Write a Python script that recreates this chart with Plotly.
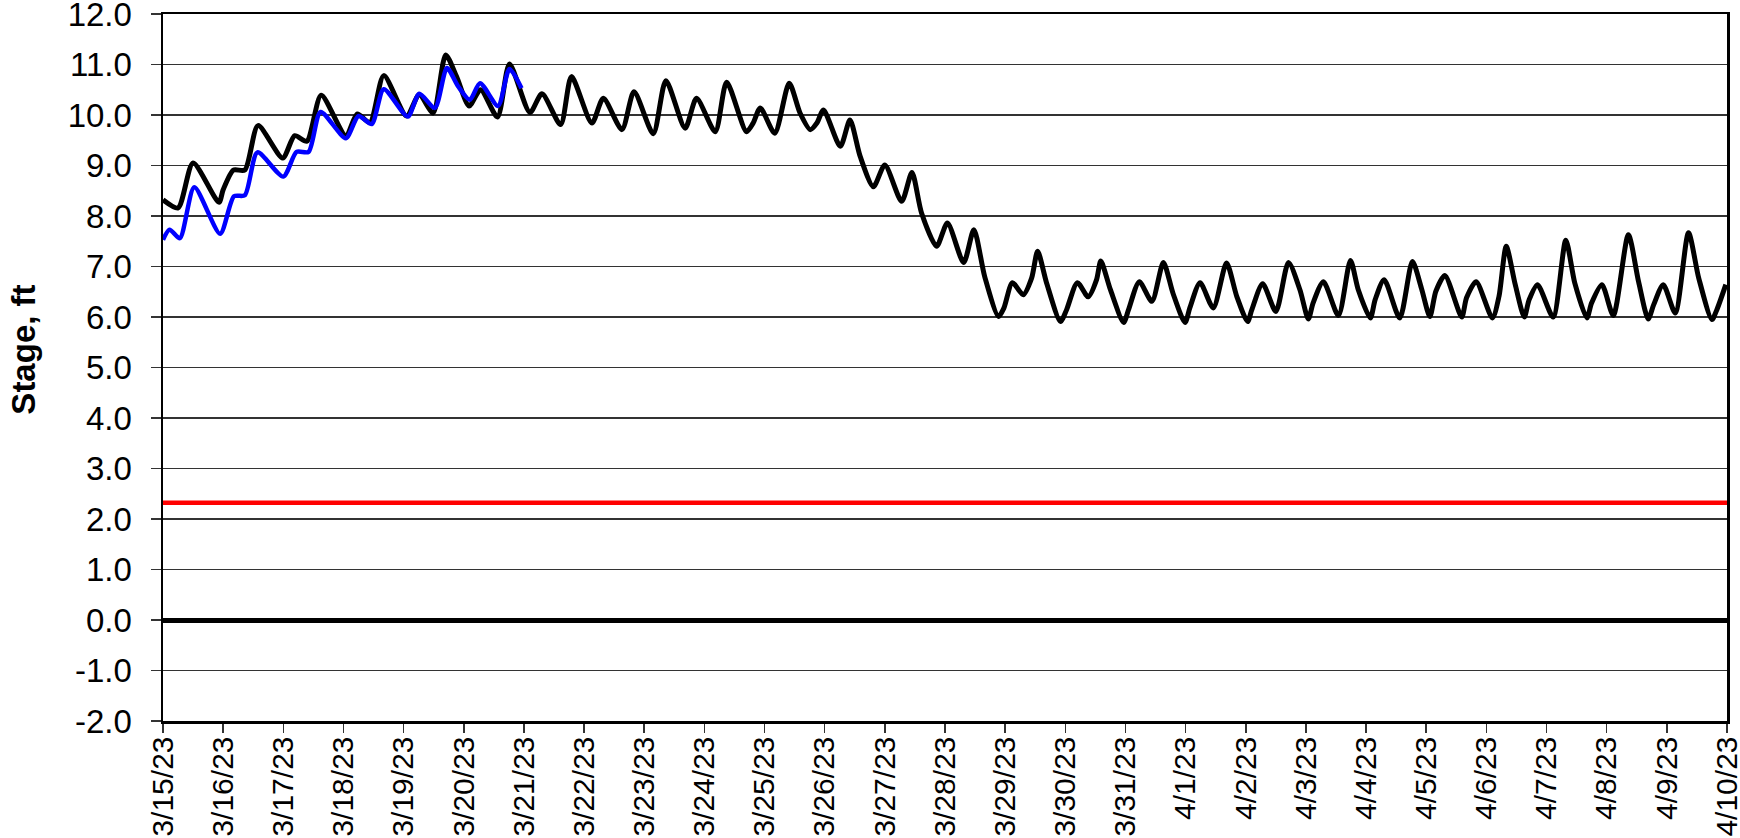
import plotly.graph_objects as go

# ---- data (x = days since 3/15/23 00:00) ----
stage_days = [0.00, 0.25, 0.50, 0.93, 1.00, 1.17, 1.36, 1.58, 1.99, 2.19, 2.39, 2.63, 3.04, 3.23, 3.44, 3.67,
              4.05, 4.26, 4.49, 4.70, 4.88, 5.09, 5.28, 5.56, 5.76, 6.10, 6.30, 6.61, 6.79, 7.13, 7.32, 7.63,
              7.83, 8.15, 8.36, 8.68, 8.87, 9.18, 9.37, 9.70, 9.81, 9.93, 10.17, 10.41, 10.59, 10.76, 10.87,
              10.98, 11.26, 11.42, 11.59, 11.81, 12.00, 12.28, 12.45, 12.61, 12.86, 13.04, 13.31, 13.48, 13.66,
              13.89, 13.98, 14.12, 14.30, 14.44, 14.54, 14.69, 14.92, 15.02, 15.20, 15.38, 15.52, 15.59, 15.75,
              15.97, 16.05, 16.23, 16.44, 16.63, 16.79, 16.99, 17.07, 17.24, 17.46, 17.68, 17.85, 18.03, 18.10,
              18.28, 18.50, 18.71, 18.90, 19.04, 19.12, 19.29, 19.54, 19.74, 19.87, 20.07, 20.15, 20.30, 20.56,
              20.77, 20.92, 21.06, 21.16, 21.31, 21.59, 21.67, 21.83, 22.10, 22.21, 22.33, 22.48, 22.63, 22.71,
              22.85, 23.11, 23.32, 23.47, 23.67, 23.75, 23.92, 24.11, 24.36, 24.53, 24.69, 24.78, 24.94, 25.14,
              25.36, 25.53, 25.75, 25.83, 25.98]
stage_values = [8.32, 8.16, 9.05, 8.27, 8.52, 8.91, 8.91, 9.79, 9.15, 9.59, 9.48, 10.39, 9.59, 10.02, 9.85, 10.78,
                9.98, 10.40, 10.04, 11.19, 10.76, 10.18, 10.50, 9.96, 11.01, 10.05, 10.42, 9.81, 10.76, 9.84, 10.33, 9.71,
                10.46, 9.63, 10.68, 9.74, 10.33, 9.67, 10.65, 9.67, 9.84, 10.14, 9.64, 10.63, 10.04, 9.71, 9.84,
                10.10, 9.38, 9.90, 9.18, 8.58, 9.01, 8.29, 8.86, 8.06, 7.40, 7.86, 7.08, 7.73, 6.80,
                6.01, 6.18, 6.68, 6.44, 6.77, 7.30, 6.67, 5.91, 6.14, 6.68, 6.40, 6.74, 7.11, 6.54,
                5.89, 6.14, 6.70, 6.31, 7.08, 6.47, 5.89, 6.18, 6.68, 6.18, 7.07, 6.41, 5.91, 6.14,
                6.66, 6.11, 7.08, 6.54, 5.96, 6.28, 6.70, 6.03, 7.12, 6.54, 5.98, 6.34, 6.74, 5.98,
                7.10, 6.57, 6.01, 6.51, 6.82, 6.00, 6.38, 6.70, 5.98, 6.41, 7.40, 6.64, 6.00, 6.34,
                6.64, 6.00, 7.52, 6.67, 5.98, 6.28, 6.64, 6.03, 7.63, 6.70, 5.96, 6.24, 6.64, 6.08,
                7.67, 6.77, 5.95, 6.14, 6.64]

second_days = [0.00, 0.11, 0.28, 0.52, 0.95, 1.18, 1.36, 1.57, 2.00, 2.22, 2.42, 2.62, 3.04, 3.25, 3.47, 3.67,
               4.07, 4.26, 4.52, 4.72, 4.91, 5.10, 5.27, 5.57, 5.76, 5.96]
second_values = [7.53, 7.73, 7.56, 8.57, 7.65, 8.39, 8.41, 9.26, 8.78, 9.27, 9.27, 10.06, 9.54, 9.98, 9.82, 10.51,
                 9.97, 10.42, 10.14, 10.93, 10.56, 10.30, 10.63, 10.18, 10.91, 10.53]

reference_level = 2.32
tick_days = list(range(0, 27))
tick_labels = ["3/15/23", "3/16/23", "3/17/23", "3/18/23", "3/19/23", "3/20/23", "3/21/23", "3/22/23",
               "3/23/23", "3/24/23", "3/25/23", "3/26/23", "3/27/23", "3/28/23", "3/29/23", "3/30/23",
               "3/31/23", "4/1/23", "4/2/23", "4/3/23", "4/4/23", "4/5/23", "4/6/23", "4/7/23", "4/8/23",
               "4/9/23", "4/10/23"]
y_ticks = [-2, -1, 0, 1, 2, 3, 4, 5, 6, 7, 8, 9, 10, 11, 12]
y_tick_labels = ["-2.0", "-1.0", "0.0", "1.0", "2.0", "3.0", "4.0", "5.0", "6.0", "7.0", "8.0", "9.0",
                 "10.0", "11.0", "12.0"]

FONT = "Liberation Sans, Arial, Helvetica, sans-serif"

fig = go.Figure()
fig.add_trace(go.Scatter(x=[tick_days[0], tick_days[-1]], y=[reference_level, reference_level], mode="lines",
                         line=dict(color="#ff0000", width=4.5), showlegend=False, hoverinfo="skip"))
fig.add_trace(go.Scatter(x=stage_days, y=stage_values, mode="lines",
                         line=dict(color="black", width=5, shape="spline", smoothing=0.7), showlegend=False))
fig.add_trace(go.Scatter(x=second_days, y=second_values, mode="lines",
                         line=dict(color="#0000ff", width=4.5, shape="spline", smoothing=0.7), showlegend=False))

fig.update_layout(
    width=1740, height=838, autosize=False,
    margin=dict(l=163, r=13, t=14, b=117),
    paper_bgcolor="white", plot_bgcolor="white",
    font=dict(family=FONT, size=31, color="black"),
    showlegend=False,
    annotations=[dict(text="<b>Stage, ft</b>", xref="paper", yref="paper",
                      x=-0.089, y=0.525, textangle=-90, showarrow=False,
                      font=dict(family=FONT, size=33, color="black"),
                      xanchor="center", yanchor="middle")],
)
fig.update_xaxes(range=[tick_days[0], tick_days[-1]], tickmode="array", tickvals=tick_days, ticktext=tick_labels,
                 tickangle=-90, ticks="outside", ticklen=9, tickwidth=1.5, tickcolor="#333",
                 showgrid=False, showline=True, linecolor="black", linewidth=2.5, mirror=True,
                 zeroline=False, automargin=False, ticklabeloverflow="allow", ticklabelstandoff=-8,
                 tickfont=dict(family=FONT, size=30, color="black"))
fig.update_yaxes(range=[-2, 12], tickmode="array", tickvals=y_ticks, ticktext=y_tick_labels,
                 ticks="outside", ticklen=10, tickwidth=1.5, tickcolor="#333",
                 showgrid=True, gridcolor="#333333", gridwidth=1.2,
                 showline=True, linecolor="black", linewidth=2.5, mirror=True,
                 zeroline=True, zerolinecolor="black", zerolinewidth=5,
                 ticklabelstandoff=12, automargin=False, ticklabeloverflow="allow",
                 tickfont=dict(family=FONT, size=33, color="black"))

fig.write_html("out.html", config={"displayModeBar": False, "staticPlot": True},
               post_script="document.body.style.margin='0';document.body.style.overflow='hidden';")
